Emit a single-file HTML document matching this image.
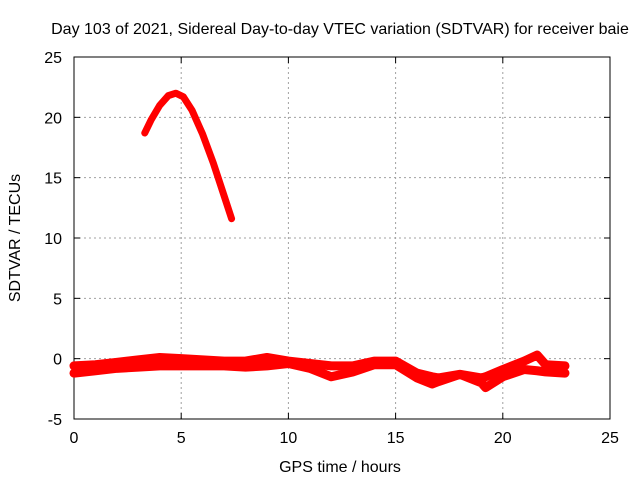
<!DOCTYPE html>
<html><head><meta charset="utf-8"><style>
body{margin:0;background:#fff;}
svg{display:block;font-family:"Liberation Sans",sans-serif;}
</style></head><body>
<svg id="c" width="640" height="480"></svg>
<script>
const xTicks=[0,5,10,15,20,25];
const yTicks=[-5,0,5,10,15,20,25];
const arcHours=[3.3,3.6,4.0,4.4,4.75,5.1,5.5,6.0,6.5,7.0,7.35];
const arcValues=[18.7,19.8,21.0,21.8,22.0,21.7,20.6,18.6,16.2,13.5,11.6];
const bandHours=[0,1,2,3,4,5,6,7,8,9,10,11,12,13,14,15,16,16.7,17,18,19,19.2,20,21,21.6,22,22.9];
const upperValues=[-0.6,-0.5,-0.3,-0.1,0.1,0.0,-0.1,-0.2,-0.2,0.1,-0.2,-0.4,-0.6,-0.6,-0.2,-0.2,-1.2,-1.5,-1.6,-1.3,-1.6,-1.5,-0.9,-0.2,0.3,-0.5,-0.6];
const lowerValues=[-1.2,-1.0,-0.8,-0.7,-0.6,-0.6,-0.6,-0.6,-0.7,-0.6,-0.4,-0.8,-1.5,-1.1,-0.5,-0.5,-1.6,-2.1,-1.9,-1.3,-2.0,-2.4,-1.5,-0.9,-1.0,-1.1,-1.2];
const X0=74,X1=610,Y0=419,Y1=57;
const sx=v=>X0+(v-0)/25*(X1-X0);
const sy=v=>Y0-(v+5)/30*(Y0-Y1);
const svg=document.getElementById('c');
const NS='http://www.w3.org/2000/svg';
function mk(t,a,p){const e=document.createElementNS(NS,t);for(const k in a)e.setAttribute(k,a[k]);(p||svg).appendChild(e);return e;}
xTicks.forEach(v=>{if(v>0&&v<25){const l=mk('line',{x1:sx(v),x2:sx(v),y1:Y0,y2:Y1,stroke:'#a0a0a0','stroke-dasharray':'2,3'});

}
const t=mk('text',{x:sx(v),y:443,'font-size':16,'text-anchor':'middle',fill:'#000'});t.textContent=v;


mk('line',{x1:sx(v),x2:sx(v),y1:Y0,y2:Y0-6,stroke:'#000'});mk('line',{x1:sx(v),x2:sx(v),y1:Y1,y2:Y1+6,stroke:'#000'});});
yTicks.forEach(v=>{if(v>-5&&v<25){const l=mk('line',{x1:X0,x2:X1,y1:sy(v),y2:sy(v),stroke:'#a0a0a0','stroke-dasharray':'2,3'});

}
const t=mk('text',{x:62,y:sy(v)+6,'font-size':16,'text-anchor':'end',fill:'#000'});t.textContent=v;


mk('line',{x1:X0,x2:X0+6,y1:sy(v),y2:sy(v),stroke:'#000'});mk('line',{x1:X1,x2:X1-6,y1:sy(v),y2:sy(v),stroke:'#000'});});
const fr=mk('rect',{x:X0,y:Y1,width:X1-X0,height:Y0-Y1,fill:'none',stroke:'#000'});


function line(h,v,w,name){const pts=h.map((x,i)=>sx(x)+','+sy(v[i])).join(' ');
const p=mk('polyline',{points:pts,fill:'none',stroke:'#ff0000','stroke-width':w,'stroke-linejoin':'round','stroke-linecap':'round'});

}
line(arcHours,arcValues,7,'sdtvar-arc-series');
line(bandHours,upperValues,9,'sdtvar-upper-series');
line(bandHours,lowerValues,9,'sdtvar-lower-series');
</script>
<script>
(function(){const s=document.getElementById('c');const NS='http://www.w3.org/2000/svg';
function t(x,y,txt,name,extra){const e=document.createElementNS(NS,'text');e.setAttribute('x',x);e.setAttribute('y',y);e.setAttribute('font-size','16');e.setAttribute('text-anchor','middle');if(extra)e.setAttribute('transform',extra);e.textContent=txt;


s.appendChild(e);}
t(340,34,'Day 103 of 2021, Sidereal Day-to-day VTEC variation (SDTVAR) for receiver baie','chart-title');
t(340,472,'GPS time / hours','x-axis-title');
t(20,238,'SDTVAR / TECUs','y-axis-title','rotate(-90 20 238)');
})();
</script>
</body></html>
